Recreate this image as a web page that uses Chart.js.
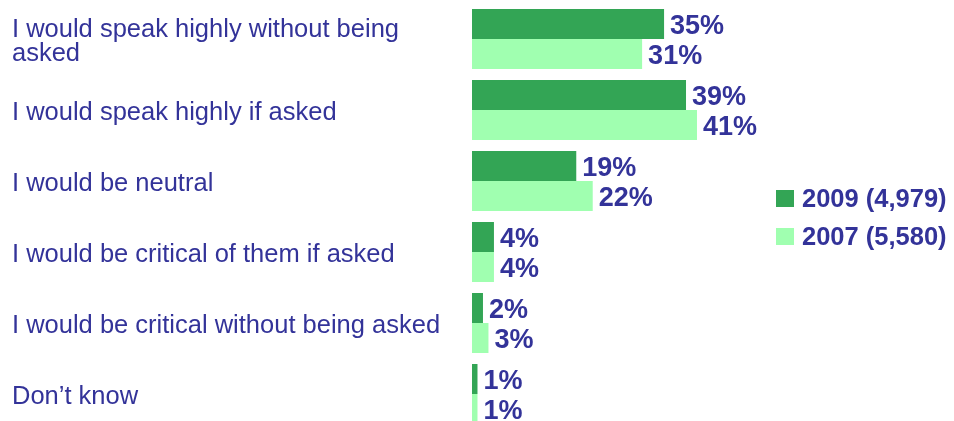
<!DOCTYPE html>
<html>
<head>
<meta charset="utf-8">
<script src="https://cdn.jsdelivr.net/npm/chart.js@4/dist/chart.umd.min.js"></script>
<style>
  html, body { margin: 0; padding: 0; background: #fff; overflow: hidden; }
  #wrap { width: 954px; height: 421px; overflow: hidden; }
  #chartCanvas { display: block; }
</style>
</head>
<body>
<div id="wrap"><canvas id="chartCanvas" width="954" height="432"></canvas></div>
<script>
// chart data
const categories = [
  ['I would speak highly without being', 'asked'],
  'I would speak highly if asked',
  'I would be neutral',
  'I would be critical of them if asked',
  'I would be critical without being asked',
  'Don\u2019t know'
];
const values2009 = [35, 39, 19, 4, 2, 1];
const values2007 = [31, 41, 22, 4, 3, 1];
const seriesLabels = ['2009 (4,979)', '2007 (5,580)'];

const textColor = '#333399';
const darkGreen = '#33A555';
const lightGreen = '#A0FFB0';
const fontFamily = '"Liberation Sans", Arial, sans-serif';

// value labels at the end of each bar
const valueLabels = {
  id: 'valueLabels',
  afterDatasetsDraw(chart) {
    const ctx = chart.ctx;
    ctx.save();
    ctx.font = 'bold 27px ' + fontFamily;
    ctx.fillStyle = textColor;
    ctx.textAlign = 'left';
    ctx.textBaseline = 'middle';
    chart.data.datasets.forEach((ds, i) => {
      chart.getDatasetMeta(i).data.forEach((bar, j) => {
        ctx.fillText(ds.data[j] + '%', bar.x + 6, bar.y + 3);
      });
    });
    ctx.restore();
  }
};

// legend drawn on the right side
const sideLegend = {
  id: 'sideLegend',
  afterDraw(chart) {
    const ctx = chart.ctx;
    ctx.save();
    ctx.font = 'bold 25.5px ' + fontFamily;
    ctx.textBaseline = 'middle';
    chart.data.datasets.forEach((ds, i) => {
      const y = 190 + i * 38;
      ctx.fillStyle = ds.backgroundColor;
      ctx.fillRect(776, y, 18, 17);
      ctx.fillStyle = textColor;
      ctx.fillText(ds.label, 802, y + 10);
    });
    ctx.restore();
  }
};

const ctx = document.getElementById('chartCanvas').getContext('2d');
new Chart(ctx, {
  type: 'bar',
  data: {
    labels: categories,
    datasets: [
      { label: seriesLabels[0], data: values2009, backgroundColor: darkGreen },
      { label: seriesLabels[1], data: values2007, backgroundColor: lightGreen }
    ]
  },
  options: {
    indexAxis: 'y',
    responsive: false,
    animation: false,
    devicePixelRatio: 1,
    layout: { padding: { left: 12, right: 43, top: 3.5, bottom: 2.5 } },
    datasets: {
      bar: { categoryPercentage: 60 / 71, barPercentage: 1, borderWidth: 0 }
    },
    plugins: {
      legend: { display: false },
      tooltip: { enabled: false }
    },
    scales: {
      x: { display: false, min: 0, max: 80 },
      y: {
        grid: { display: false, drawTicks: false },
        border: { display: false },
        afterFit(scale) {
          scale.width = 460;
          scale.paddingTop = 0;
          scale.paddingBottom = 0;
        },
        ticks: {
          crossAlign: 'far',
          padding: 0,
          labelOffset: 3,
          color: textColor,
          font: { family: fontFamily, size: 25.5, lineHeight: 0.94 }
        }
      }
    }
  },
  plugins: [valueLabels, sideLegend]
});
</script>
</body>
</html>
